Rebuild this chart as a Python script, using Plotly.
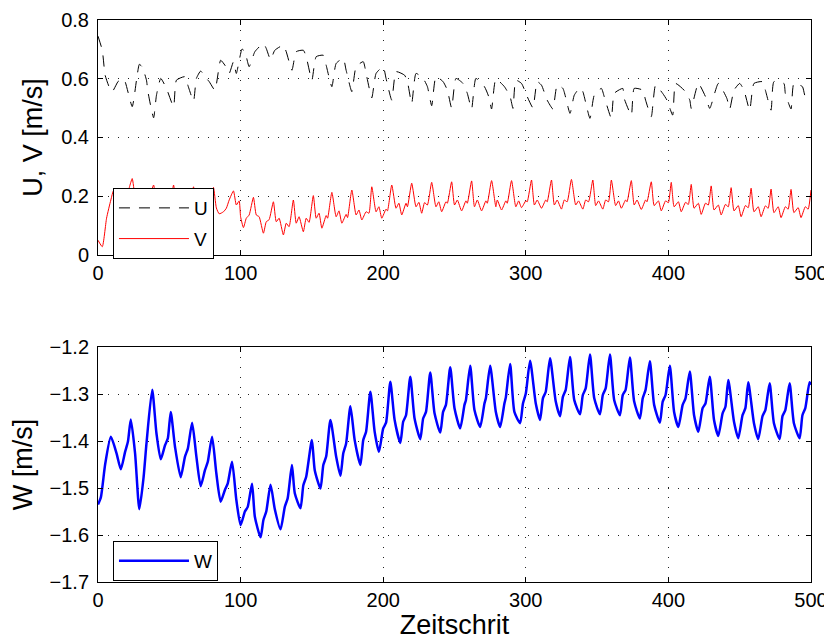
import plotly.graph_objects as go

# ---------------- data ----------------
u_steps = [0,3,5,8,10,14,17,19,24,27,29,31,34,35,39,41,44,48,53,55,61,63,67,69,72,76,78,82,86,89,92,95,97,101,103,106,110,116,118,121,124,130,132,136,139,144,146,150,153,158,160,164,167,172,174,178,181,186,188,192,195,200,202,206,209,215,217,220,223,228,231,234,237,242,245,248,251,256,259,262,265,271,274,276,279,285,289,291,293,297,301,305,308,311,315,319,322,326,331,334,338,340,345,348,353,355,360,362,368,369,374,376,382,384,388,391,396,399,403,405,411,415,416,421,426,429,435,441,443,446,450,453,457,460,466,468,472,474,481,482,486,488,494,496,500]
u_vals = [0.745,0.697,0.612,0.57,0.556,0.59,0.601,0.59,0.505,0.595,0.649,0.64,0.595,0.556,0.467,0.544,0.601,0.567,0.505,0.595,0.607,0.578,0.524,0.601,0.626,0.601,0.590,0.561,0.663,0.646,0.618,0.658,0.618,0.701,0.692,0.641,0.692,0.720,0.703,0.665,0.697,0.714,0.692,0.629,0.692,0.697,0.675,0.595,0.675,0.680,0.646,0.573,0.652,0.669,0.629,0.556,0.641,0.658,0.618,0.535,0.618,0.641,0.601,0.527,0.624,0.612,0.590,0.516,0.618,0.601,0.573,0.508,0.607,0.590,0.561,0.500,0.601,0.584,0.550,0.497,0.601,0.573,0.539,0.497,0.599,0.573,0.539,0.499,0.595,0.584,0.539,0.501,0.590,0.578,0.527,0.497,0.578,0.567,0.482,0.544,0.569,0.556,0.465,0.544,0.567,0.539,0.465,0.550,0.567,0.533,0.476,0.567,0.561,0.527,0.471,0.578,0.550,0.527,0.476,0.584,0.561,0.527,0.499,0.584,0.539,0.499,0.584,0.533,0.497,0.561,0.584,0.561,0.493,0.584,0.590,0.561,0.493,0.590,0.584,0.550,0.497,0.584,0.573,0.539,0.533]

v_steps = [0,3,6,9,11,14,17,20,22,24,26,29,31,34,36,39,41,44,46,49,51,53,55,58,60,63,65,67,69,72,74,77,79,81,83,85,88,90,92,95,97,99,100,102,104,106,109,111,113,116,118,120,123,125,127,130,132,134,137,139,141,144,146,148,151,153,155,157,160,161,164,167,169,171,174,175,178,181,183,185,188,190,192,195,197,199,202,203,206,209,211,213,216,217,220,223,225,227,229,231,234,237,239,241,244,245,248,250,252,255,258,259,262,264,266,269,272,273,276,279,280,283,286,287,290,293,295,297,300,301,304,306,308,311,314,315,318,320,322,325,327,329,332,335,337,340,342,344,347,349,351,354,356,358,360,363,365,367,370,371,374,376,378,381,384,385,388,390,393,395,398,400,402,404,407,409,412,414,416,418,421,423,426,428,430,432,435,437,440,442,444,446,449,451,454,456,458,460,463,465,468,470,472,474,477,479,482,484,486,488,491,493,496,498,500]
v_vals = [0.05,0.028,0.125,0.187,0.22,0.2,0.17,0.19,0.23,0.26,0.2,0.17,0.18,0.15,0.19,0.238,0.18,0.16,0.17,0.14,0.18,0.238,0.17,0.15,0.16,0.13,0.17,0.232,0.16,0.14,0.155,0.12,0.16,0.23,0.16,0.14,0.147,0.159,0.187,0.218,0.170,0.184,0.130,0.093,0.125,0.136,0.196,0.136,0.130,0.074,0.113,0.12,0.181,0.113,0.125,0.068,0.108,0.096,0.187,0.108,0.130,0.079,0.125,0.111,0.202,0.125,0.142,0.091,0.134,0.125,0.213,0.130,0.150,0.108,0.138,0.127,0.221,0.136,0.153,0.119,0.147,0.142,0.232,0.147,0.164,0.125,0.156,0.150,0.238,0.159,0.176,0.136,0.176,0.164,0.244,0.164,0.179,0.142,0.178,0.170,0.247,0.164,0.181,0.147,0.181,0.176,0.249,0.170,0.187,0.150,0.184,0.176,0.252,0.164,0.187,0.150,0.184,0.176,0.253,0.164,0.187,0.153,0.184,0.176,0.253,0.164,0.184,0.161,0.184,0.181,0.255,0.170,0.187,0.159,0.187,0.181,0.255,0.170,0.187,0.156,0.187,0.181,0.257,0.170,0.184,0.156,0.187,0.181,0.255,0.168,0.184,0.156,0.187,0.181,0.255,0.168,0.184,0.159,0.187,0.181,0.253,0.170,0.187,0.155,0.187,0.181,0.249,0.168,0.184,0.150,0.184,0.178,0.247,0.164,0.181,0.147,0.179,0.172,0.240,0.159,0.176,0.138,0.176,0.170,0.235,0.153,0.170,0.136,0.172,0.164,0.229,0.150,0.168,0.130,0.168,0.161,0.227,0.147,0.164,0.130,0.167,0.159,0.224,0.144,0.164,0.127,0.164,0.156,0.223,0.144,0.161,0.127,0.164,0.156,0.221]

w_steps = [0,2,5,9,13,16,19,21,23,26,29,32,34,38,41,44,47,49,51,54,58,61,63,66,69,72,75,77,80,83,86,89,91,94,97,100,103,105,108,110,114,116,118,121,124,128,131,133,136,138,142,144,146,150,152,156,158,160,163,167,170,172,174,177,180,184,186,188,191,194,197,200,202,205,208,212,214,216,219,222,226,228,230,233,236,240,242,244,247,250,254,257,258,261,264,268,271,272,275,279,282,285,286,289,292,296,298,300,303,307,310,312,314,317,321,324,326,328,331,334,338,340,342,345,348,352,354,356,359,362,366,368,370,373,376,380,382,384,387,390,394,396,398,401,404,407,410,412,415,418,421,424,426,429,432,435,438,440,442,446,449,452,454,456,460,463,466,468,471,474,478,480,482,485,488,492,494,496,499,500]
w_vals = [-1.535,-1.52,-1.45,-1.391,-1.426,-1.46,-1.423,-1.401,-1.354,-1.426,-1.545,-1.476,-1.405,-1.291,-1.384,-1.439,-1.409,-1.394,-1.338,-1.412,-1.477,-1.433,-1.416,-1.361,-1.433,-1.496,-1.462,-1.444,-1.391,-1.469,-1.529,-1.504,-1.490,-1.444,-1.525,-1.579,-1.550,-1.540,-1.491,-1.561,-1.605,-1.568,-1.550,-1.493,-1.545,-1.588,-1.540,-1.522,-1.451,-1.511,-1.543,-1.494,-1.476,-1.398,-1.462,-1.501,-1.451,-1.433,-1.355,-1.433,-1.474,-1.426,-1.405,-1.326,-1.398,-1.451,-1.398,-1.380,-1.295,-1.380,-1.423,-1.373,-1.361,-1.274,-1.355,-1.404,-1.359,-1.345,-1.263,-1.352,-1.396,-1.352,-1.338,-1.254,-1.341,-1.382,-1.338,-1.323,-1.243,-1.330,-1.373,-1.323,-1.313,-1.240,-1.334,-1.370,-1.320,-1.309,-1.240,-1.338,-1.370,-1.320,-1.307,-1.236,-1.338,-1.362,-1.320,-1.299,-1.229,-1.320,-1.355,-1.309,-1.295,-1.224,-1.316,-1.347,-1.306,-1.291,-1.221,-1.313,-1.343,-1.302,-1.288,-1.216,-1.309,-1.343,-1.302,-1.288,-1.216,-1.313,-1.345,-1.302,-1.291,-1.222,-1.316,-1.352,-1.309,-1.291,-1.230,-1.323,-1.361,-1.316,-1.302,-1.240,-1.338,-1.370,-1.323,-1.309,-1.252,-1.345,-1.380,-1.330,-1.320,-1.263,-1.355,-1.389,-1.341,-1.327,-1.270,-1.359,-1.394,-1.345,-1.330,-1.275,-1.362,-1.396,-1.347,-1.334,-1.277,-1.362,-1.396,-1.347,-1.334,-1.277,-1.362,-1.394,-1.345,-1.330,-1.275,-1.28]

x_ticks = [0, 100, 200, 300, 400, 500]
y1_ticks = [0, 0.2, 0.4, 0.6, 0.8]
y1_labels = ["0", "0.2", "0.4", "0.6", "0.8"]
y2_ticks = [-1.7, -1.6, -1.5, -1.4, -1.3, -1.2]
y2_labels = ["\u22121.7", "\u22121.6", "\u22121.5", "\u22121.4", "\u22121.3", "\u22121.2"]

FONT = "Liberation Sans, Arial, Helvetica, sans-serif"

fig = go.Figure()
fig.add_trace(go.Scatter(x=u_steps, y=u_vals, mode="lines", name="U", legendgroup="u",
                         line=dict(color="black", width=1, dash="11px,9px", shape="spline", smoothing=0.5),
                         xaxis="x", yaxis="y", legend="legend"))
fig.add_trace(go.Scatter(x=v_steps, y=v_vals, mode="lines", name="V", legendgroup="v",
                         line=dict(color="red", width=1, shape="spline", smoothing=0.5),
                         xaxis="x", yaxis="y", legend="legend"))
fig.add_trace(go.Scatter(x=w_steps, y=w_vals, mode="lines", name="W",
                         line=dict(color="blue", width=2.5, shape="spline", smoothing=0.6),
                         xaxis="x2", yaxis="y2", legend="legend2"))

axis_common = dict(showline=True, linecolor="black", linewidth=1, mirror="ticks",
                   ticks="inside", ticklen=5, tickcolor="black", automargin=False,
                   ticklabeloverflow="allow",
                   showgrid=True, gridcolor="#222", griddash="1px,9px", gridwidth=1,
                   zeroline=False, tickfont=dict(family=FONT, size=20, color="black"))

fig.update_layout(
    width=824, height=632,
    paper_bgcolor="white", plot_bgcolor="white",
    margin=dict(l=90, r=21, t=12, b=58),
    font=dict(family=FONT, color="black"),
    xaxis=dict(domain=[0, 1], range=[0, 500], tickvals=x_ticks, anchor="y", **axis_common),
    yaxis=dict(domain=[0.582, 1.0], range=[0, 0.8], tickvals=y1_ticks, ticktext=y1_labels, anchor="x",
               ticklabelstandoff=4,
               title=dict(text="U, V [m/s]", font=dict(family=FONT, size=27), standoff=10), **axis_common),
    xaxis2=dict(domain=[0, 1], range=[0, 500], tickvals=x_ticks, anchor="y2",
                title=dict(text="Zeitschrit", font=dict(family=FONT, size=27), standoff=4), **axis_common),
    yaxis2=dict(domain=[0, 0.418], range=[-1.7, -1.2], tickvals=y2_ticks, ticktext=y2_labels, anchor="x2",
                ticklabelstandoff=4,
                title=dict(text="W [m/s]", font=dict(family=FONT, size=27), standoff=10), **axis_common),
    legend=dict(x=0.021, y=0.701, xanchor="left", yanchor="top", bgcolor="white",
                bordercolor="black", borderwidth=1, font=dict(family=FONT, size=19),
                itemwidth=70, tracegroupgap=3),
    legend2=dict(x=0.021, y=0.073, xanchor="left", yanchor="top", bgcolor="white",
                 bordercolor="black", borderwidth=1, font=dict(family=FONT, size=19),
                 itemwidth=70),
    showlegend=True,
)

fig.write_html("out.html")
